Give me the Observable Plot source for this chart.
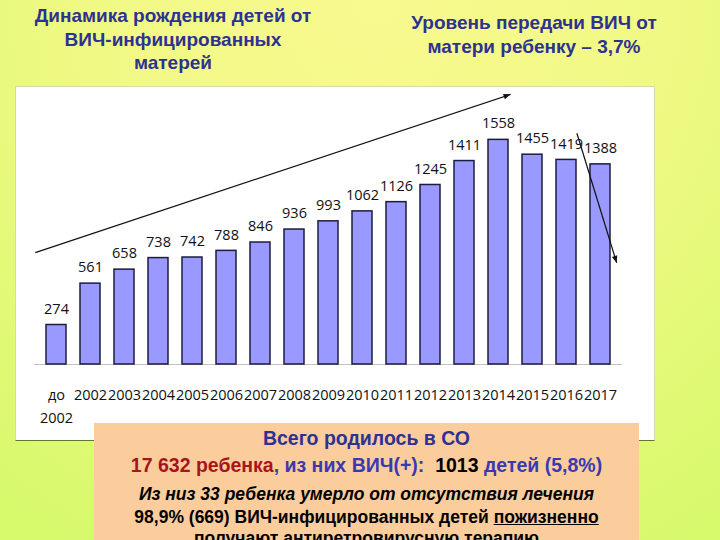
<!DOCTYPE html>
<html>
<head>
<meta charset="utf-8">
<script src="https://cdn.jsdelivr.net/npm/d3@7"></script>
<script src="https://cdn.jsdelivr.net/npm/@observablehq/plot@0.6"></script>
<style>
  html, body { margin: 0; padding: 0; }
  body {
    width: 720px; height: 540px; overflow: hidden; position: relative;
    font-family: "Liberation Sans", Arial, sans-serif;
    background: radial-gradient(ellipse 85% 115% at 52% 0%, #f8f98f 0%, #f1f985 45%, #d7f96c 100%);
  }
  .title {
    position: absolute; text-align: center; font-weight: bold; font-size: 19px;
    color: #2e3192; line-height: 23.5px; white-space: nowrap;
  }
  #t1 { left: 3px; width: 340px; top: 4px; }
  #t2 { left: 364px; width: 340px; top: 11px; }
  #panel {
    position: absolute; left: 15px; top: 86px; width: 640px; height: 355px;
    background: #fff; border: 1px solid #d6d9b0; border-bottom: 1px solid #5d7a2c;
    box-sizing: border-box;
  }
  #chart { position: absolute; left: 15px; top: 86px; }
  #box {
    position: absolute; left: 94px; top: 423px; width: 545px; height: 130px;
    background: #fbcd9d; text-align: center; font-weight: bold; white-space: nowrap;
  }
  #box div { position: absolute; left: 0; right: 0; line-height: 23px; }
  #box .l1 { top: 3.5px; font-size: 19.5px; color: #2e3192; }
  #box .l2 { top: 30.5px; font-size: 19.5px; color: #3a3ab0; }
  #box .l3 { top: 60px; font-size: 17.5px; font-style: italic; color: #000; }
  #box .l4 { top: 83px; font-size: 17.5px; color: #000; }
  #box .l5 { top: 104px; font-size: 17.5px; color: #000; }
  .red { color: #a8141c; }
  .blk { color: #000; }
  .u { text-decoration: underline; }
</style>
</head>
<body>
<div class="title" id="t1">Динамика рождения детей от<br>ВИЧ-инфицированных<br>матерей</div>
<div class="title" id="t2">Уровень передачи ВИЧ от<br>матери ребенку – 3,7%</div>
<div id="panel"></div>
<div id="chart"></div>
<div id="box">
  <div class="l1">Всего родилось в СО</div>
  <div class="l2"><span class="red">17 632 ребенка</span>, из них ВИЧ(+):&nbsp; <span class="blk">1013</span> детей (5,8%)</div>
  <div class="l3">Из низ 33 ребенка умерло от отсутствия лечения</div>
  <div class="l4">98,9% (669) ВИЧ-инфицированных детей <span class="u">пожизненно</span></div>
  <div class="l5">получают антиретровирусную терапию</div>
</div>
<script>
const categories = ["до 2002","2002","2003","2004","2005","2006","2007","2008","2009","2010","2011","2012","2013","2014","2015","2016","2017"];
const births = [274, 561, 658, 738, 742, 788, 846, 936, 993, 1062, 1126, 1245, 1411, 1558, 1455, 1419, 1388];
const tickLabels = ["до\n2002","2002","2003","2004","2005","2006","2007","2008","2009","2010","2011","2012","2013","2014","2015","2016","2017"];
// trend arrows: x in category-index units, y in data units
const trendArrows = [
  {x1: -0.61, y1: 772, x2: 13.37, y2: 1870},
  {x1: 15.32, y1: 1600, x2: 16.49, y2: 702}
];

const data = categories.map((c, i) => ({cat: c, value: births[i]}));
const labelOf = new Map(categories.map((c, i) => [c, tickLabels[i]]));

function arrowsMark(arrows) {
  return (index, scales) => {
    const x = scales.x, y = scales.y;
    let bw = x.bandwidth;
    if (typeof bw === "function") bw = bw();
    bw = bw || 0;
    const x0 = x(categories[0]) + bw / 2;
    const step = x(categories[1]) - x(categories[0]);
    const px = t => x0 + t * step;
    const g = d3.create("svg:g");
    for (const a of arrows) {
      const X1 = px(a.x1), Y1 = y(a.y1), X2 = px(a.x2), Y2 = y(a.y2);
      g.append("line").attr("x1", X1).attr("y1", Y1).attr("x2", X2).attr("y2", Y2)
        .attr("stroke", "#111").attr("stroke-width", 1.2);
      const ang = Math.atan2(Y2 - Y1, X2 - X1), L = 7, W = 2.8;
      const bx = X2 - L * Math.cos(ang), by = Y2 - L * Math.sin(ang);
      const nx = -Math.sin(ang) * W, ny = Math.cos(ang) * W;
      g.append("path")
        .attr("d", `M${X2},${Y2}L${bx + nx},${by + ny}L${bx - nx},${by - ny}Z`)
        .attr("fill", "#111");
    }
    return g.node();
  };
}

const chart = Plot.plot({
  width: 640,
  height: 355,
  marginLeft: 19.1,
  marginRight: 33.1,
  marginTop: 47.3,
  marginBottom: 77,
  style: {fontFamily: "'Open Sans', sans-serif", fontSize: "14.5px", background: "transparent", overflow: "visible"},
  x: {domain: categories, paddingInner: 0.42, paddingOuter: 0.23, align: 0.5},
  y: {domain: [0, 1600], axis: null},
  marks: [
    Plot.ruleY([0], {stroke: "#c0c0c0", strokeWidth: 1.2}),
    Plot.barY(data, {x: "cat", y: "value", fill: "#9999ff", stroke: "#1c1c3c", strokeWidth: 1.5}),
    Plot.text(data, {x: "cat", y: "value", text: d => String(d.value), dy: -16, lineAnchor: "middle", fill: "#111", fontSize: 14.5}),
    Plot.axisX({tickSize: 0, tickPadding: 19, tickFormat: c => labelOf.get(c), lineAnchor: "top", lineHeight: 1.6, fill: "#111", fontSize: 14.5, label: null}),
    arrowsMark(trendArrows)
  ]
});
document.getElementById("chart").appendChild(chart);
</script>
</body>
</html>
